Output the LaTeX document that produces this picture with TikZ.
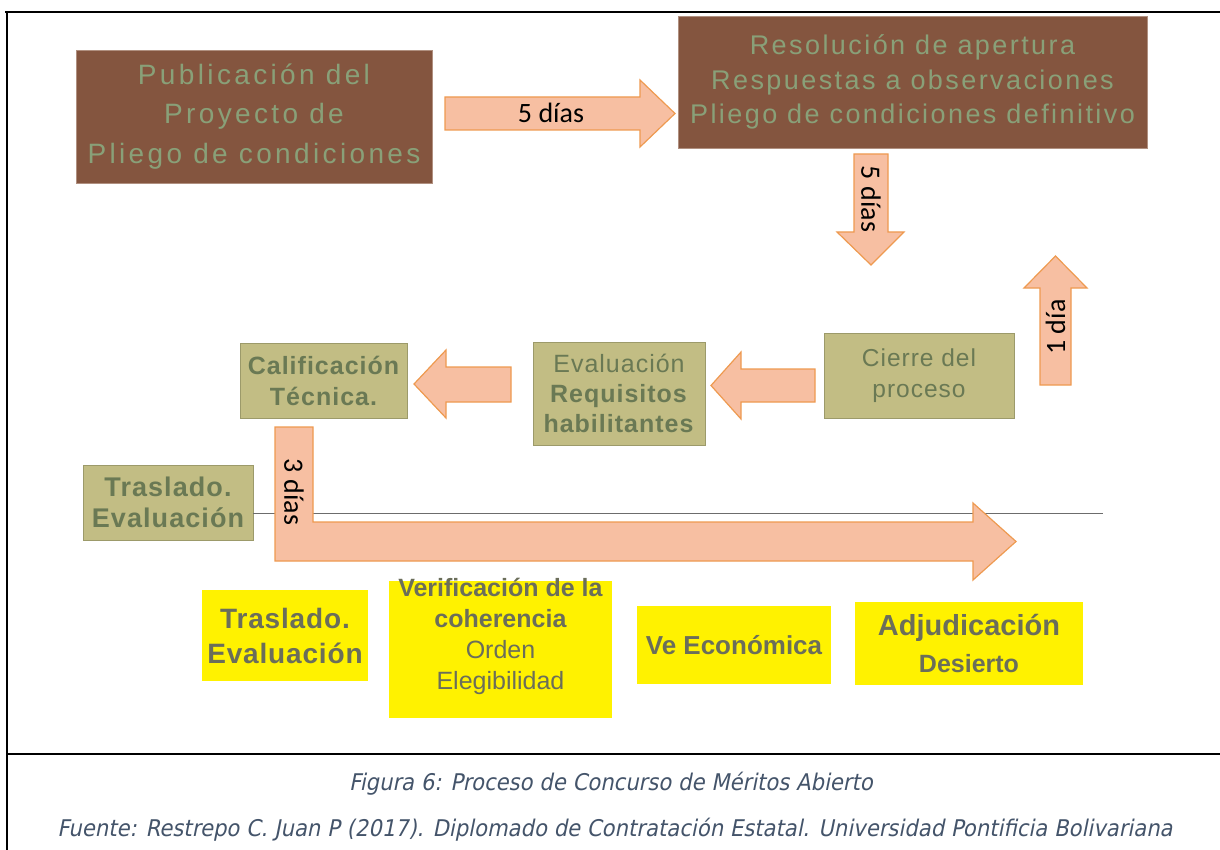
\documentclass[tikz,border=0pt]{standalone}
\usepackage{fontspec}
\setmainfont{Liberation Sans}
\newfontfamily\boxfontA[LetterSpace=12]{Liberation Sans}
\newfontfamily\boxfontB[LetterSpace=9]{Liberation Sans}
\newfontfamily\olivefont[LetterSpace=4]{Liberation Sans}
\newfontfamily\yelfont[LetterSpace=3]{Liberation Sans}
\newfontfamily\calfont{Carlito}
\newfontfamily\capfont[FakeStretch=0.92,FakeSlant=0.2]{DejaVu Sans}
\definecolor{brownfill}{HTML}{84553F}
\definecolor{browndraw}{HTML}{B09080}
\definecolor{browntext}{HTML}{89A078}
\definecolor{olivefill}{HTML}{C2BD84}
\definecolor{olivetext}{HTML}{6A7954}
\definecolor{olivedraw}{HTML}{9C9A6A}
\definecolor{arrowfill}{HTML}{F7BFA2}
\definecolor{arrowdraw}{HTML}{EE9A50}
\definecolor{yellowtext}{HTML}{6B6E5A}
\definecolor{captext}{HTML}{44546A}
\begin{document}
\begin{tikzpicture}[x=1pt,y=-1pt,
  brownbox/.style={fill=brownfill,draw=browndraw,line width=0.8pt,inner sep=0pt,align=center,text=browntext},
  olivebox/.style={fill=olivefill,draw=olivedraw,line width=0.8pt,inner sep=0pt,align=center,text=olivetext},
  yelbox/.style={fill=yellow,inner sep=0pt,align=center,text=yellowtext},
  yeltext/.style={inner sep=0pt,align=center,text=yellowtext},
  blockarrow/.style={fill=arrowfill,draw=arrowdraw,line width=1.2pt,line join=miter},
  daytext/.style={inner sep=0pt,font=\calfont\fontsize{28}{30}\selectfont,text=black},
  captxt/.style={inner sep=0pt,anchor=base,text=captext,font=\capfont\fontsize{23}{28}\selectfont},
  frame/.style={draw=black,line width=2.5pt},
  thinframe/.style={draw=black,line width=1.3pt}]
\useasboundingbox (0,0) rectangle (1220,850);

% frame
\coordinate (tl) at (5,12);
\coordinate (tr) at (1220,12);
\coordinate (tla) at (67,12);
\coordinate (tra) at (1160,12);
\coordinate (lb) at (7,850);
\coordinate (lt) at (7,12);
\coordinate (sl) at (7,754);
\coordinate (sr) at (1220,754);
\draw[thinframe] (tl) -- (tr);
\draw[frame] (tl) -- (tla);
\draw[frame] (tra) -- (tr);
\draw[frame] (lt) -- (lb);
\draw[frame] (sl) -- (sr);

% top boxes
\node[brownbox,minimum width=356pt,minimum height=133pt,
  font=\boxfontA\fontsize{28}{39.5}\selectfont] (b1) at (254,116.5)
  {Publicación del\\Proyecto de\\Pliego de condiciones};
\node[brownbox,minimum width=469pt,minimum height=132pt,
  font=\boxfontB\fontsize{27}{34.5}\selectfont] (b2) at (912.5,82)
  {Resolución de apertura\\Respuestas a observaciones\\Pliego de condiciones definitivo};

% middle boxes
\node[olivebox,minimum width=190pt,minimum height=85pt,
  font=\olivefont\fontsize{24.5}{31}\selectfont] (cierre) at (919,375.5)
  {Cierre del\\proceso};
\node[olivebox,minimum width=172pt,minimum height=103pt,
  font=\olivefont\fontsize{25}{30}\selectfont] (eval) at (619,393.5)
  {Evaluación\\\textbf{Requisitos}\\\textbf{habilitantes}};
\node[olivebox,minimum width=167pt,minimum height=75pt,
  font=\olivefont\bfseries\fontsize{25}{31}\selectfont] (calif) at (323.5,380.5)
  {Calificación\\Técnica.};
\node[olivebox,minimum width=170pt,minimum height=75pt,
  font=\olivefont\bfseries\fontsize{27}{31}\selectfont] (tras1) at (168,502.5)
  {Traslado.\\Evaluación};

% gray line
\coordinate (gl) at (1103,513);
\draw[draw=gray!85!black,line width=1pt] (tras1.east |- gl) -- (gl);

% block arrows
\draw[blockarrow] (445,97) -- (640,97) -- (640,80) -- (675,113.5) -- (640,147) -- (640,130) -- (445,130) -- cycle;
\node[daytext] (t5a) at (551,113) {5 días};

\draw[blockarrow] (854,154) -- (888,154) -- (888,232) -- (904,232) -- (871,265) -- (837,232) -- (854,232) -- cycle;
\node[daytext,rotate=-90] (t5b) at (871,199) {5 días};

\draw[blockarrow] (1040,385) -- (1071,385) -- (1071,288) -- (1087,288) -- (1055.5,256) -- (1024,288) -- (1040,288) -- cycle;
\node[daytext,rotate=90] (t1) at (1055.5,327) {1 día};

\draw[blockarrow] (815,369) -- (741,369) -- (741,352) -- (711,385.5) -- (741,419) -- (741,402) -- (815,402) -- cycle;
\draw[blockarrow] (511,367) -- (446,367) -- (446,350) -- (414,384) -- (446,418) -- (446,402) -- (511,402) -- cycle;

\draw[blockarrow] (275,427) -- (313,427) -- (313,522) -- (973,522) -- (973,503) -- (1016,541.5) -- (973,580) -- (973,561) -- (275,561) -- cycle;
\node[daytext,rotate=-90] (t3) at (294,492) {3 días};

% yellow boxes
\node[yelbox,minimum width=166pt,minimum height=91pt,
  font=\yelfont\bfseries\fontsize{28}{35}\selectfont] (y1) at (285,635.5)
  {Traslado.\\Evaluación};
\node[yelbox,minimum width=223pt,minimum height=137pt] (y2) at (500.5,649.5) {};
\node[yeltext,font=\fontsize{25}{31}\selectfont] (y2t) at (500.5,636)
  {\textbf{Verificación de la}\\\textbf{coherencia}\\Orden\\Elegibilidad};
\node[yelbox,minimum width=194pt,minimum height=78pt,
  font=\bfseries\fontsize{26}{31}\selectfont] (y3) at (734,645)
  {Ve Económica};
\node[yelbox,minimum width=228pt,minimum height=83pt,
  font=\bfseries\fontsize{29}{37}\selectfont] (y4) at (969,643.5)
  {Adjudicación\\{\fontsize{25}{37}\selectfont Desierto}};

% caption
\node[captxt] (cap1) at (611,790) {Figura 6: Proceso de Concurso de Méritos Abierto};
\node[captxt] (cap2) at (615,836) {Fuente: Restrepo C. Juan P (2017). Diplomado de Contratación Estatal. Universidad Pontificia Bolivariana};
\end{tikzpicture}
\end{document}
